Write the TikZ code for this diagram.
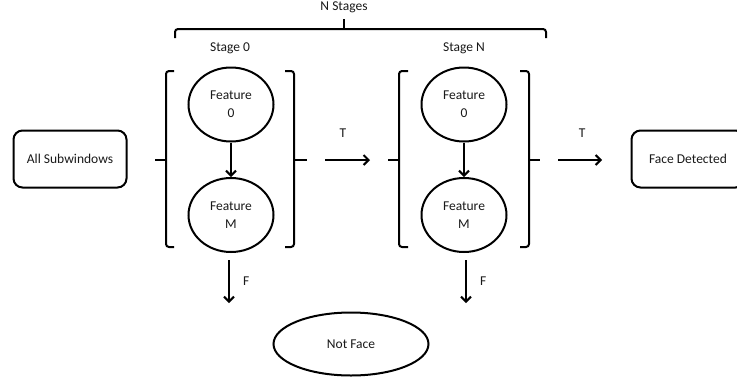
\documentclass[tikz,border=0pt]{standalone}
\usepackage{fontspec}
\setmainfont{Carlito}
\usetikzlibrary{shapes.geometric,arrows.meta}
\begin{document}
\begin{tikzpicture}[x=1pt,y=-1pt,
  line width=2pt,
  every node/.style={font=\fontsize{13.5}{18}\selectfont, inner sep=0pt, text=black!90},
  feat/.style={draw, ellipse, minimum width=85pt, minimum height=74pt, align=center},
  rbox/.style={draw, rounded corners=9pt, minimum width=113pt, minimum height=57pt},
  oval/.style={draw, ellipse, minimum width=155pt, minimum height=63pt},
  arr/.style={-{Straight Barb[length=5pt,width=10pt]}},
  brk/.style={rounded corners=3pt}
]
\useasboundingbox (0,0) rectangle (737,381);
% nodes
\node[rbox] (all) at (70,159) {All Subwindows};
\node[rbox] (face) at (688,159) {Face Detected};
\node[feat] (f0a) at (231,104.5) {Feature\\0};
\node[feat] (fma) at (231,215) {Feature\\M};
\node[feat] (f0b) at (464,104.5) {Feature\\0};
\node[feat] (fmb) at (464,215) {Feature\\M};
\node[oval] (nf) at (351,344) {Not Face};
\node (s0) at (230,48) {Stage 0};
\node (sn) at (464,48) {Stage N};
\node (ns) at (344,7) {N Stages};
% brace
\draw[brk] (175,38) -- (175,29) -- (546,29) -- (546,38);
\draw (344,29) -- (344,19);
% brackets stage 0
\draw[brk] (174,71) -- (166,71) -- (166,247) -- (174,247);
\draw (166,160) -- (155,160);
\draw[brk] (285,71) -- (294,71) -- (294,247) -- (285,247);
\draw (294,160) -- (307,160);
% brackets stage N
\draw[brk] (408,71) -- (399,71) -- (399,247) -- (408,247);
\draw (399,160) -- (388,160);
\draw[brk] (520,71) -- (529,71) -- (529,247) -- (520,247);
\draw (529,160) -- (540,160);
% arrows
\draw[arr] (f0a) -- (fma);
\draw[arr] (f0b) -- (fmb);
\coordinate (t1s) at (325,160); \coordinate (t1e) at (370,160);
\coordinate (t2s) at (558,160); \coordinate (t2e) at (602,160);
\draw[arr] (t1s) -- node[pos=0.4, above=22pt] {T} (t1e);
\draw[arr] (t2s) -- node[pos=0.55, above=22pt] {T} (t2e);
\coordinate (fa1) at (229,260); \coordinate (fa2) at (229,303);
\coordinate (fb1) at (466,260); \coordinate (fb2) at (466,303);
\draw[arr] (fa1) -- node[right=13pt] {F} (fa2);
\draw[arr] (fb1) -- node[right=13pt] {F} (fb2);
\end{tikzpicture}
\end{document}
